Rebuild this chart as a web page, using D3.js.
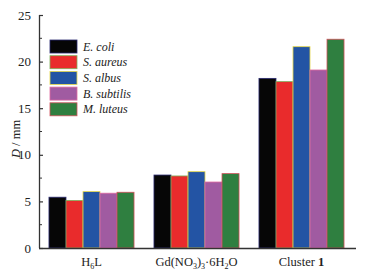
<!DOCTYPE html>
<html>
<head>
<meta charset="utf-8">
<script src="https://cdn.jsdelivr.net/npm/d3@7"></script>
<style>
body{margin:0;background:#fff}
</style>
</head>
<body>
<svg id="chart" width="381" height="275"></svg>
<script>
var groups=['H6L','Gd','Cluster']
var series=['E. coli','S. aureus','S. albus','B. subtilis','M. luteus']
var fills=['#060606','#e92b2c','#2354a4','#a05ba1','#2f7f40']
var strokes=['#2a2a70','#7fae5a','#e6d84a','#e06aa0','#d0505a']
var values={
  'E. coli':[5.45,7.83,18.2],
  'S. aureus':[5.1,7.73,17.85],
  'S. albus':[6.05,8.19,21.6],
  'B. subtilis':[5.88,7.08,19.1],
  'M. luteus':[5.98,7.98,22.4]
}
var yTicks=[0,5,10,15,20,25]
var SERIF="'Liberation Serif','Times New Roman',Times,'DejaVu Serif',serif"

var svg=d3.select('#chart')
var m={left:39,right:354,top:15,bottom:248}
var x0=d3.scaleBand().domain(groups).range([m.left,m.right]).paddingInner(0.19).paddingOuter(0.095)
var x1=d3.scaleBand().domain(series).range([0,x0.bandwidth()])
var y=d3.scaleLinear().domain([0,25]).range([m.bottom,m.top])
var color=d3.scaleOrdinal().domain(series).range(fills)
var edge=d3.scaleOrdinal().domain(series).range(strokes)

// bars
var g=svg.append('g')
groups.forEach(function(gr,gi){
    g.append('g')
        .attr('transform','translate('+x0(gr)+',0)')
        .selectAll('rect')
        .data(series.map(s=>({s:s,v:values[s][gi]})))
        .join('rect')
        .attr('x',d=>x1(d.s))
        .attr('y',d=>y(d.v))
        .attr('width',x1.bandwidth())
        .attr('height',d=>m.bottom-y(d.v))
        .attr('fill',d=>color(d.s))
        .attr('stroke',d=>edge(d.s))
        .attr('stroke-width',0.8)
})

// y axis, ticks inward
var yAxis=d3.axisLeft(y).tickValues(yTicks).tickSize(-4).tickPadding(8)
var ya=svg.append('g').attr('transform','translate('+m.left+',0)').call(yAxis)
ya.attr('font-family',null)
ya.select('.domain').attr('stroke','#333').attr('stroke-width',1.3).attr('d','M0.5,'+m.top+'V'+m.bottom)
ya.selectAll('.tick line').attr('stroke','#333').attr('stroke-width',1.2)
ya.selectAll('.tick text').attr('font-size',13).style('font-family',SERIF).attr('fill','#222')
var minor=d3.range(2.5,25,5)
ya.selectAll('.minor').data(minor).join('line')
    .attr('x1',0).attr('x2',3).attr('y1',d=>y(d)).attr('y2',d=>y(d))
    .attr('stroke','#333').attr('stroke-width',1)

// x axis line
svg.append('line').attr('x1',m.left).attr('x2',356).attr('y1',m.bottom+0.5).attr('y2',m.bottom+0.5)
    .attr('stroke','#333').attr('stroke-width',1.3)

// x labels
var ly=266
function lab(k){
    return svg.append('text').attr('x',x0(k)+x0.bandwidth()/2).attr('y',ly)
        .attr('text-anchor','middle').attr('font-size',12.5).attr('fill','#222').style('font-family',SERIF)
}
var t1=lab('H6L')
t1.append('tspan').text('H')
t1.append('tspan').text('6').attr('font-size',8).attr('dy',3)
t1.append('tspan').text('L').attr('dy',-3)
var t2=lab('Gd')
t2.append('tspan').text('Gd(NO')
t2.append('tspan').text('3').attr('font-size',8).attr('dy',3)
t2.append('tspan').text(')').attr('dy',-3)
t2.append('tspan').text('3').attr('font-size',8).attr('dy',3)
t2.append('tspan').text('·6H').attr('dy',-3)
t2.append('tspan').text('2').attr('font-size',8).attr('dy',3)
t2.append('tspan').text('O').attr('dy',-3)
var t3=lab('Cluster')
t3.append('tspan').text('Cluster ')
t3.append('tspan').text('1').attr('font-weight','bold')

// y label
var yl=svg.append('text').attr('transform','translate(20,139) rotate(-90)').attr('text-anchor','middle')
    .attr('font-size',12.5).attr('fill','#222').style('font-family',SERIF)
yl.append('tspan').text('D').attr('font-style','italic')
yl.append('tspan').text(' / mm')

// legend
var leg=svg.append('g').attr('transform','translate(50,40)')
var row=leg.selectAll('g').data(series).join('g').attr('transform',(d,i)=>'translate(0,'+(i*15.7)+')')
row.append('rect').attr('width',27).attr('height',13)
    .attr('fill',d=>color(d)).attr('stroke',d=>edge(d)).attr('stroke-width',0.8)
row.append('text').attr('x',33).attr('y',10.5).attr('font-size',12).attr('font-style','italic')
    .attr('fill','#222').style('font-family',SERIF).text(d=>d)
</script>
</body>
</html>
